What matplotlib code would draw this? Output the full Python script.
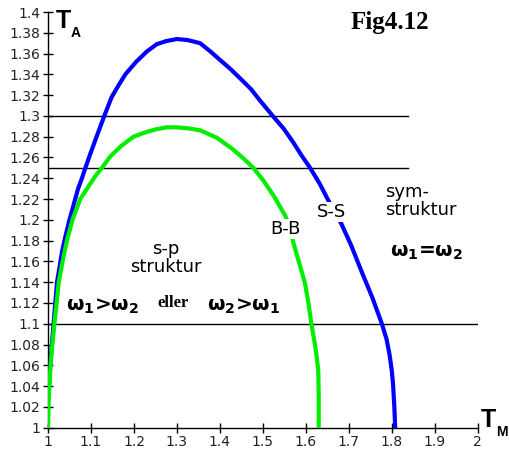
import matplotlib
matplotlib.use("Agg")
import matplotlib.pyplot as plt

# Data
blue_x = [1.000, 1.003, 1.006, 1.010, 1.013, 1.017, 1.021, 1.027, 1.033, 1.041, 1.050,
          1.060, 1.070, 1.079, 1.087, 1.098, 1.113, 1.131, 1.148, 1.165, 1.180, 1.205,
          1.230, 1.253, 1.275, 1.300, 1.325, 1.354, 1.378, 1.400, 1.425, 1.450, 1.472,
          1.493, 1.523, 1.548, 1.570, 1.590, 1.610, 1.632, 1.652, 1.683, 1.706, 1.730,
          1.755, 1.777, 1.788, 1.795, 1.800, 1.803, 1.806, 1.808]
blue_y = [1.030, 1.045, 1.065, 1.085, 1.100, 1.120, 1.140, 1.155, 1.170, 1.185, 1.200,
          1.215, 1.230, 1.240, 1.250, 1.263, 1.280, 1.300, 1.318, 1.330, 1.340, 1.352,
          1.362, 1.369, 1.372, 1.374, 1.373, 1.370, 1.362, 1.354, 1.345, 1.335, 1.326,
          1.315, 1.300, 1.288, 1.275, 1.262, 1.250, 1.235, 1.219, 1.196, 1.175, 1.150,
          1.125, 1.100, 1.085, 1.070, 1.055, 1.042, 1.020, 1.000]

green_x = [1.000, 1.001, 1.002, 1.004, 1.006, 1.010, 1.015, 1.020, 1.025, 1.034, 1.044,
           1.057, 1.075, 1.094, 1.110, 1.129, 1.145, 1.170, 1.199, 1.225, 1.250, 1.275,
           1.300, 1.328, 1.355, 1.393, 1.430, 1.455, 1.478, 1.501, 1.527, 1.552, 1.563,
           1.571, 1.585, 1.598, 1.606, 1.613, 1.618, 1.622, 1.626, 1.629, 1.630, 1.630]
green_y = [1.000, 1.015, 1.030, 1.045, 1.060, 1.080, 1.100, 1.120, 1.140, 1.160, 1.180,
           1.200, 1.220, 1.232, 1.242, 1.252, 1.261, 1.271, 1.280, 1.284, 1.287, 1.289,
           1.289, 1.288, 1.286, 1.279, 1.268, 1.259, 1.250, 1.238, 1.222, 1.204, 1.192,
           1.178, 1.158, 1.139, 1.120, 1.100, 1.088, 1.078, 1.066, 1.055, 1.030, 1.000]

hline_y = [1.30, 1.25, 1.10]
hline_xmax = [1.838, 1.838, 2.0]

x_ticks = [1, 1.1, 1.2, 1.3, 1.4, 1.5, 1.6, 1.7, 1.8, 1.9, 2]
x_tick_labels = ["1", "1.1", "1.2", "1.3", "1.4", "1.5", "1.6", "1.7", "1.8", "1.9", "2"]
y_ticks = [1 + 0.02 * i for i in range(21)]
y_tick_labels = ["1", "1.02", "1.04", "1.06", "1.08", "1.1", "1.12", "1.14", "1.16", "1.18",
                 "1.2", "1.22", "1.24", "1.26", "1.28", "1.3", "1.32", "1.34", "1.36", "1.38", "1.4"]

W, H = 509, 450
fig = plt.figure(figsize=(W / 100, H / 100), dpi=100)
ax = fig.add_axes([48 / W, (H - 427.7) / H, 429.7 / W, 415.7 / H])
ax.set_xlim(1, 2)
ax.set_ylim(1, 1.4)

for yv, xm in zip(hline_y, hline_xmax):
    ax.plot([1, xm], [yv, yv], color="black", lw=1.0, zorder=2)

ax.plot(blue_x, blue_y, color="#0000ff", lw=3.0, zorder=3, solid_joinstyle="round")
ax.plot(green_x, green_y, color="#00ee00", lw=3.0, zorder=4, solid_joinstyle="round")

ax.spines["top"].set_visible(False)
ax.spines["right"].set_visible(False)
ax.spines["left"].set_linewidth(1.0)
ax.spines["bottom"].set_linewidth(1.0)
ax.set_xticks(x_ticks)
ax.set_xticklabels(x_tick_labels)
ax.set_yticks(y_ticks)
ax.set_yticklabels(y_tick_labels)
ax.tick_params(direction="inout", length=7, width=1, labelsize=10, colors="black")
ax.tick_params(axis="x", pad=2)
ax.tick_params(axis="y", pad=2)
for lab in ax.get_xticklabels() + ax.get_yticklabels():
    lab.set_color("#222222")

def px(x, y):
    return (x / W, 1 - y / H)

sans = "DejaVu Sans"
wb = dict(facecolor="white", edgecolor="none", pad=1)

fig.text(*px(56, 21), "T", fontsize=18, fontweight="bold", family="Liberation Sans", ha="left", va="center")
fig.text(*px(71, 33), "A", fontsize=10, fontweight="bold", family="Liberation Sans", ha="left", va="center")
fig.text(*px(481, 420), "T", fontsize=18, fontweight="bold", family="Liberation Sans", ha="left", va="center")
fig.text(*px(496, 432), "M", fontsize=10, fontweight="bold", family="Liberation Sans", ha="left", va="center")

fig.text(*px(390, 22), "Fig4.12", fontsize=18, fontweight="bold", family="Liberation Serif",
         ha="center", va="center")

fig.text(*px(332, 212), "S-S", fontsize=13, family=sans, ha="center", va="center", bbox=wb, zorder=10)
fig.text(*px(285, 229), "B-B", fontsize=13, family=sans, ha="center", va="center", bbox=wb, zorder=10)
fig.text(*px(166, 258), "s-p\nstruktur", fontsize=13, family=sans, ha="center", va="center",
         linespacing=1.0)
fig.text(*px(385, 201), "sym-\nstruktur", fontsize=13, family=sans, ha="left", va="center",
         linespacing=1.0)

om = r"$\mathbf{\omega}_\mathbf{%s}$%s$\mathbf{\omega}_\mathbf{%s}$"
fig.text(*px(427, 253), om % ("1", "=", "2"), fontsize=14.5, fontweight="bold", family=sans,
         ha="center", va="center")
fig.text(*px(103, 306), om % ("1", ">", "2"), fontsize=14.5, fontweight="bold", family=sans,
         ha="center", va="center")
fig.text(*px(244, 306), om % ("2", ">", "1"), fontsize=14.5, fontweight="bold", family=sans,
         ha="center", va="center")
fig.text(*px(173, 303), "eller", fontsize=12, fontweight="bold", family="Liberation Serif",
         ha="center", va="center")

fig.savefig("out.png", dpi=100)
